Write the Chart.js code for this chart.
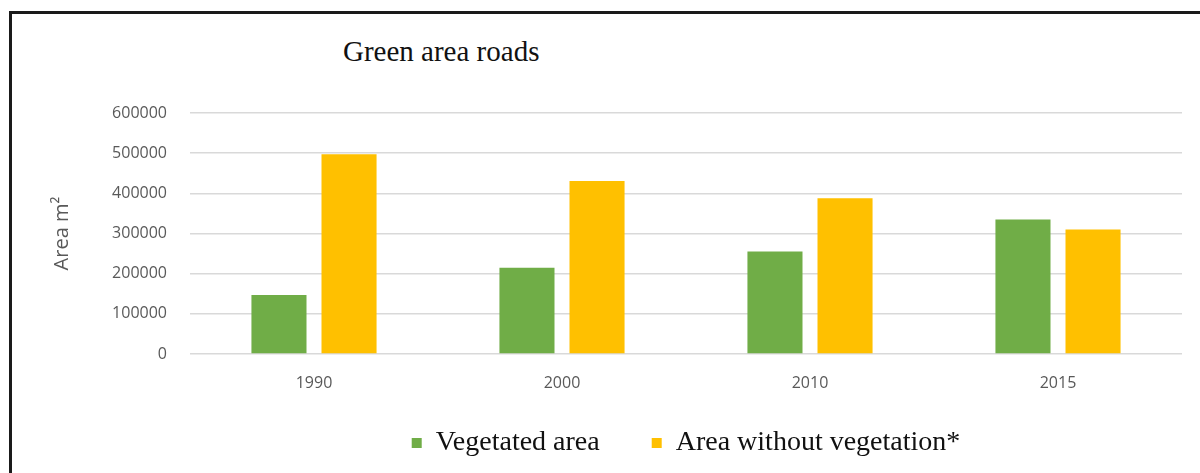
<!DOCTYPE html>
<html>
<head>
<meta charset="utf-8">
<script src="https://cdn.jsdelivr.net/npm/chart.js@4.4.1/dist/chart.umd.min.js"></script>
<style>
  html, body { margin: 0; padding: 0; background: #fff; }
  #wrap { position: relative; width: 1200px; height: 473px; overflow: hidden; }
  #frame { position: absolute; left: 9px; top: 11px; width: 1300px; height: 600px;
           border-left: 3px solid #1a1a1a; border-top: 3px solid #1a1a1a; box-sizing: border-box; }
  #title { position: absolute; left: 343px; top: 35px; font-family: "Liberation Serif", "Times New Roman", serif;
           font-size: 29px; color: #111; white-space: nowrap; }
  canvas { position: absolute; left: 0; top: 0; }
</style>
</head>
<body>
<div id="wrap">
  <div id="frame"></div>
  <div id="title">Green area roads</div>
  <canvas id="c" width="1200" height="473"></canvas>
</div>
<script>
const categories = ["1990", "2000", "2010", "2015"];
const vegetatedArea = [147000, 215000, 255000, 335000];
const areaWithoutVegetation = [497000, 431000, 388000, 310000];
const seriesNames = ["Vegetated area", "Area without vegetation*"];
const yAxisTitle = "Area m²";

const ctx = document.getElementById('c').getContext('2d');
new Chart(ctx, {
  type: 'bar',
  data: {
    labels: categories,
    datasets: [
      { label: seriesNames[0], data: vegetatedArea, backgroundColor: '#70AD47' },
      { label: seriesNames[1], data: areaWithoutVegetation, backgroundColor: '#FFC000' }
    ]
  },
  options: {
    responsive: false,
    animation: false,
    devicePixelRatio: 1,
    layout: { padding: { left: 10, top: 113, right: 18, bottom: 6 } },
    datasets: { bar: { categoryPercentage: 0.565, barPercentage: 0.786 } },
    plugins: {
      tooltip: { enabled: false },
      legend: {
        position: 'bottom',
        fullSize: false,
        labels: {
          boxWidth: 10, boxHeight: 10, padding: 10,
          color: '#111',
          font: { family: '"Liberation Serif", "Times New Roman", serif', size: 28 },
          generateLabels: (chart) => {
            const items = Chart.defaults.plugins.legend.labels.generateLabels(chart);
            items.forEach((it, i) => { if (i < items.length - 1) it.text = it.text + '\u2003\u2002'; });
            return items;
          }
        }
      }
    },
    scales: {
      x: {
        grid: { display: false, drawTicks: false },
        border: { display: false },
        ticks: { color: '#595959', padding: 20, font: { family: '"Open Sans", sans-serif', size: 16 } },
        afterFit: (s) => { s.height = 65; }
      },
      y: {
        min: 0, max: 600000,
        ticks: { stepSize: 100000, color: '#595959', padding: 23,
                 callback: (v) => String(v),
                 font: { family: '"Open Sans", sans-serif', size: 16 } },
        grid: { color: '#D9D9D9', lineWidth: 1.5, drawTicks: false },
        border: { display: false },
        title: { display: true, text: yAxisTitle, color: '#595959',
                 font: { family: '"Open Sans", sans-serif', size: 20 }, padding: { top: 40, bottom: 0 } },
        afterFit: (s) => { s.width = 180; }
      }
    }
  }
});
</script>
</body>
</html>
